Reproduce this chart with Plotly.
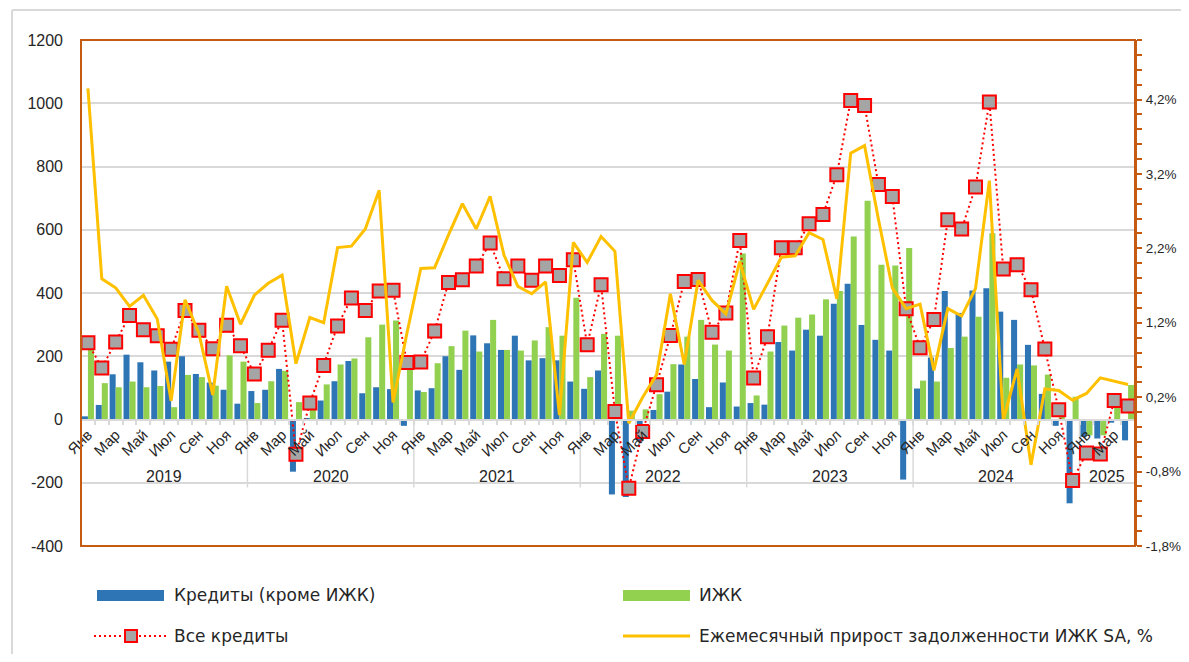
import plotly.graph_objects as go

# ---------------- data ----------------
month_names = ["Янв", "Фев", "Мар", "Апр", "Май", "Июн", "Июл", "Авг", "Сен", "Окт", "Ноя", "Дек"]
years = ["2019", "2020", "2021", "2022", "2023", "2024", "2025"]

# Кредиты (кроме ИЖК), млрд руб.
credits_ex_mortgage = [
    10, 46, 143, 205, 181, 155, 183, 200, 144, 117, 94, 50,
    90, 94, 160, -165, 5, 60, 121, 185, 83, 102, 96, -20,
    92, 99, 200, 157, 266, 241, 220, 265, 187, 194, 187, 120,
    97, 155, -237, -245, -70, 30, 88, 174, 128, 39, 117, 41,
    52, 47, 245, 218, 284, 265, 366, 429, 299, 252, 218, -190,
    98, 196, 406, 337, 408, 415, 341, 315, 236, 81, -20, -265,
    -55, -60, -10, -66,
]
# ИЖК, млрд руб.
mortgage = [
    233, 115, 102, 120, 102, 106, 39, 141, 134, 107, 203, 183,
    52, 121, 154, 55, 47, 111, 174, 193, 260, 300, 313, 200,
    87, 178, 232, 281, 215, 315, 220, 218, 250, 292, 265, 385,
    134, 271, 265, 28, 32, 80, 175, 262, 315, 237, 218, 525,
    76, 215, 297, 322, 332, 380, 406, 579, 692, 489, 487, 542,
    123, 120, 226, 262, 325, 589, 132, 174, 171, 142, 51, 72,
    -50, -50, 70, 109,
]
# Все кредиты, млрд руб.
all_credits = [
    243, 163, 245, 329, 284, 265, 222, 345, 282, 224, 298, 233,
    144, 219, 314, -110, 52, 171, 296, 384, 345, 406, 409, 180,
    182, 280, 433, 442, 485, 558, 445, 485, 440, 485, 455, 505,
    236, 426, 25, -217, -38, 110, 266, 436, 443, 276, 337, 566,
    131, 262, 543, 543, 619, 648, 774, 1009, 993, 743, 705, 350,
    227, 316, 632, 602, 735, 1004, 476, 489, 410, 223, 31, -193,
    -106, -109, 60, 43,
]
# Ежемесячный прирост задолженности ИЖК SA, %
mortgage_growth_sa = [
    4.35, 1.79, 1.67, 1.42, 1.57, 1.25, 0.15, 1.51, 1.06, 0.23, 1.69, 1.18,
    1.57, 1.73, 1.84, 0.65, 1.27, 1.20, 2.21, 2.23, 2.46, 2.98, 0.13, 1.06,
    1.93, 1.94, 2.38, 2.80, 2.46, 2.90, 2.11, 1.69, 1.59, 1.75, -0.04, 2.28,
    2.01, 2.36, 2.16, -0.15, 0.20, 0.50, 1.59, 0.64, 1.77, 1.50, 1.32, 2.02,
    1.38, 1.74, 2.08, 2.10, 2.41, 2.32, 1.52, 3.48, 3.58, 2.59, 1.67, 1.39,
    1.45, 0.56, 1.39, 1.29, 1.66, 3.11, -0.11, 0.58, -0.71, 0.31, 0.29, 0.16,
    0.25, 0.46, 0.42, 0.37,
]

left_ticks = [-400, -200, 0, 200, 400, 600, 800, 1000, 1200]
left_ticktext = ["-400", "-200", "0", "200", "400", "600", "800", "1000", "1200"]
right_ticks = [-1.8, -0.8, 0.2, 1.2, 2.2, 3.2, 4.2]
right_ticktext = ["-1,8%", "-0,8%", "0,2%", "1,2%", "2,2%", "3,2%", "4,2%"]

legend_names = ["Кредиты (кроме ИЖК)", "ИЖК", "Все кредиты",
                "Ежемесячный прирост задолженности ИЖК SA, %"]

# ---------------- derived ----------------
n = len(all_credits)
x = list(range(n))
month_labels = [month_names[i % 12] for i in range(n)]

BLUE = "#2E75B6"
GREEN = "#92D050"
GOLD = "#FFC000"
RED = "#FF0000"
GREY_MARK = "#A5A5A5"
ORANGE = "#C55A11"
GRID = "#D9D9D9"
TXT = "#262626"
AXFONT = "Liberation Sans, Arial, sans-serif"
LEGFONT = "DejaVu Sans, sans-serif"

# page offset of the html body (default 8px margin on every side)
OFF = 8
PAGE_W, PAGE_H = 1189, 662
W, H = PAGE_W - 2 * OFF, PAGE_H - 2 * OFF
# plot area in page pixels
L, R, T, B = 81, 1135, 40, 546


def px(xp):
    return (xp - L) / (R - L)


def py(yp):
    return (B - yp) / (B - T)


fig = go.Figure()
fig.add_trace(go.Bar(x=x, y=credits_ex_mortgage, name=legend_names[0],
                     marker=dict(color=BLUE, line=dict(width=0))))
fig.add_trace(go.Bar(x=x, y=mortgage, name=legend_names[1],
                     marker=dict(color=GREEN, line=dict(width=0))))
fig.add_trace(go.Scatter(x=x, y=all_credits, name=legend_names[2], mode="lines+markers",
                         line=dict(color=RED, width=2, dash="2px,3px"),
                         marker=dict(symbol="square", size=13, color=GREY_MARK,
                                     line=dict(color=RED, width=2))))
fig.add_trace(go.Scatter(x=x, y=mortgage_growth_sa, name=legend_names[3], mode="lines",
                         yaxis="y2", line=dict(color=GOLD, width=3)))

shapes = []
annotations = []

# outer light frame
shapes.append(dict(type="line", xref="paper", yref="paper", x0=px(12), x1=px(12), y0=py(10), y1=py(PAGE_H + 5),
                   line=dict(color=GRID, width=2)))
shapes.append(dict(type="line", xref="paper", yref="paper", x0=px(12), x1=px(PAGE_W + 5), y0=py(10), y1=py(10),
                   line=dict(color=GRID, width=2)))

# year separators and labels
for k in range(1, 7):
    shapes.append(dict(type="line", xref="x", yref="y", x0=12 * k - 0.5, x1=12 * k - 0.5, y0=0, y1=-215,
                       line=dict(color=GRID, width=1.5), layer="below"))
for k, yr in enumerate(years):
    start = 12 * k
    end = min(12 * k + 11, n - 1)
    annotations.append(dict(x=(start + end) / 2, y=-180, xref="x", yref="y", text=yr, showarrow=False,
                            font=dict(family=AXFONT, size=16, color=TXT), xanchor="center", yanchor="middle"))

# plot-area frame
shapes.append(dict(type="rect", xref="paper", yref="paper", x0=0, x1=1, y0=0, y1=1,
                   line=dict(color=ORANGE, width=2), layer="above"))

# manual legend
shapes.append(dict(type="rect", xref="paper", yref="paper", x0=px(97), x1=px(164), y0=py(601), y1=py(590),
                   fillcolor=BLUE, line=dict(width=0)))
shapes.append(dict(type="rect", xref="paper", yref="paper", x0=px(623), x1=px(690), y0=py(601), y1=py(590),
                   fillcolor=GREEN, line=dict(width=0)))
shapes.append(dict(type="line", xref="paper", yref="paper", x0=px(94), x1=px(166), y0=py(636), y1=py(636),
                   line=dict(color=RED, width=2, dash="2px,3px")))
shapes.append(dict(type="rect", xref="paper", yref="paper", x0=px(125), x1=px(137), y0=py(642), y1=py(630),
                   fillcolor=GREY_MARK, line=dict(color=RED, width=2)))
shapes.append(dict(type="line", xref="paper", yref="paper", x0=px(623), x1=px(690), y0=py(636), y1=py(636),
                   line=dict(color=GOLD, width=3)))
for (xx, yy, name) in [(172, 595, legend_names[0]), (697, 595, legend_names[1]),
                       (172, 636, legend_names[2]), (697, 636, legend_names[3])]:
    annotations.append(dict(x=px(xx), y=py(yy), xref="paper", yref="paper", text=name, showarrow=False,
                            xanchor="left", yanchor="middle",
                            font=dict(family=LEGFONT, size=17, color=TXT)))

fig.update_layout(
    width=W, height=H,
    margin=dict(l=L - OFF, r=(OFF + W) - R, t=T - OFF, b=(OFF + H) - B, autoexpand=False),
    paper_bgcolor="white", plot_bgcolor="white",
    barmode="group", bargap=0.13, bargroupgap=0,
    showlegend=False,
    shapes=shapes, annotations=annotations,
    xaxis=dict(range=[-0.5, n - 0.5], anchor="free", position=0.25,
               tickmode="array", tickvals=x[::2], ticktext=month_labels[::2], tickangle=-45,
               tickfont=dict(family=AXFONT, size=15, color=TXT),
               showgrid=False, zeroline=False, showline=True, linecolor=GRID, linewidth=1.5,
               ticks="", minor=dict(ticks="outside", tick0=-0.5, dtick=1, ticklen=5, tickcolor=GRID,
                                    tickwidth=1.5, showgrid=False)),
    yaxis=dict(range=[-400, 1200], tickmode="array", tickvals=left_ticks, ticktext=left_ticktext,
               tickfont=dict(family=AXFONT, size=16, color=TXT), ticklabelstandoff=17,
               showgrid=True, gridcolor=GRID, gridwidth=1.5, zeroline=False, showline=False, ticks=""),
    yaxis2=dict(range=[-1.8, 5.0], overlaying="y", side="right", tickmode="array",
                tickvals=right_ticks, ticktext=right_ticktext,
                tickfont=dict(family=AXFONT, size=13.5, color=TXT), ticklabelstandoff=1,
                showgrid=False, zeroline=False, showline=True, linecolor=ORANGE, linewidth=2,
                ticks="outside", ticklen=5, tickwidth=2, tickcolor=ORANGE,
                minor=dict(ticks="outside", tick0=-1.8, dtick=0.2, ticklen=5, tickwidth=2,
                           tickcolor=ORANGE, showgrid=False)),
)

fig.write_html("out.html")
